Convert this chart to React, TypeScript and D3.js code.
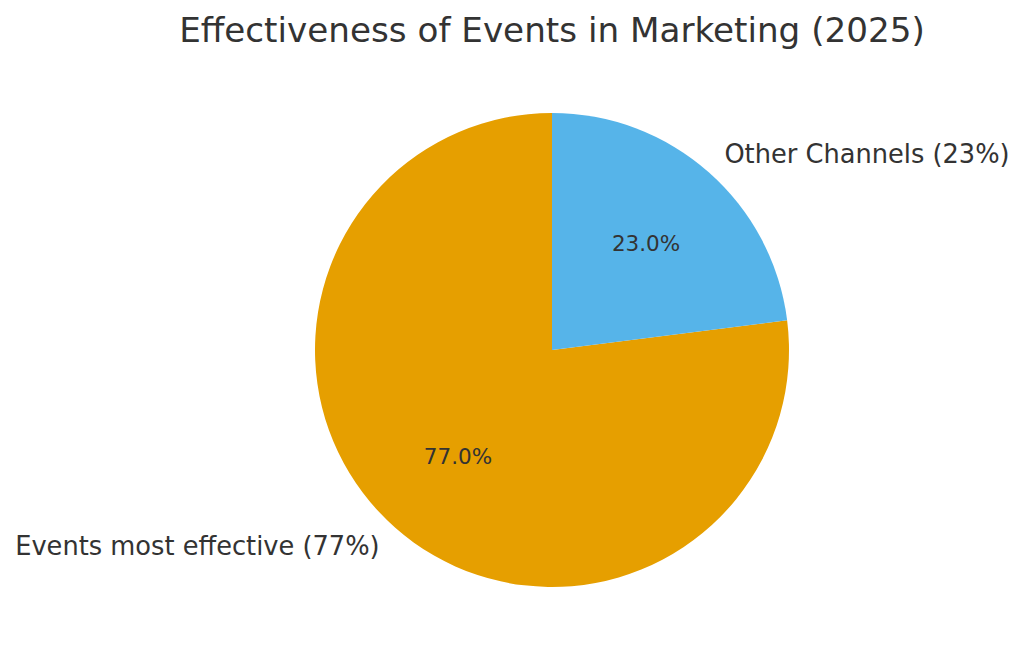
import React from "react";
import * as d3 from "d3";

const categories = ["Events most effective (77%)", "Other Channels (23%)"];
const values = [77, 23];
const colors = ["#E69F00", "#56B4E9"];
const title = "Effectiveness of Events in Marketing (2025)";

const W = 1024;
const H = 662;
const cx = 552;
const cy = 350;
const R = 237;

export default function App() {
  // matplotlib: startangle=90, counterclockwise
  const total = d3.sum(values);
  const angleScale = d3.scaleLinear().domain([0, total]).range([0, 2 * Math.PI]);
  let acc = 0;
  const slices = values.map((v, i) => {
    const a0 = angleScale(acc);
    acc += v;
    const a1 = angleScale(acc);
    return { v, i, a0, a1 };
  });
  const arc = d3.arc<any>().innerRadius(0).outerRadius(R);
  const font = "DejaVu Sans, sans-serif";
  return (
    <svg width={W} height={H} style={{ position: "absolute", left: 0, top: 0, background: "#fff" }}>
      <text x={552} y={42} textAnchor="middle" fontFamily={font} fontSize={34.2} fill="#333333">
        {title}
      </text>
      <g transform={`translate(${cx},${cy})`}>
        {slices.map((s) => (
          <path
            key={s.i}
            d={arc({ startAngle: -s.a1, endAngle: -s.a0 }) as string}
            fill={colors[s.i]}
          />
        ))}
        {slices.map((s) => {
          const mid = (s.a0 + s.a1) / 2;
          const theta = Math.PI / 2 + mid;
          const lx = 1.1 * R * Math.cos(theta);
          const ly = -1.1 * R * Math.sin(theta);
          const px = 0.6 * R * Math.cos(theta);
          const py = -0.6 * R * Math.sin(theta);
          return (
            <g key={"t" + s.i}>
              <text
                x={lx}
                y={ly}
                textAnchor={lx < 0 ? "end" : "start"}
                dominantBaseline="central"
                fontFamily={font}
                fontSize={25.7}
                fill="#333333"
              >
                {categories[s.i]}
              </text>
              <text
                x={px}
                y={py}
                textAnchor="middle"
                dominantBaseline="central"
                fontFamily={font}
                fontSize={21.5}
                fill="#333333"
              >
                {d3.format(".1f")(s.v) + "%"}
              </text>
            </g>
          );
        })}
      </g>
    </svg>
  );
}
